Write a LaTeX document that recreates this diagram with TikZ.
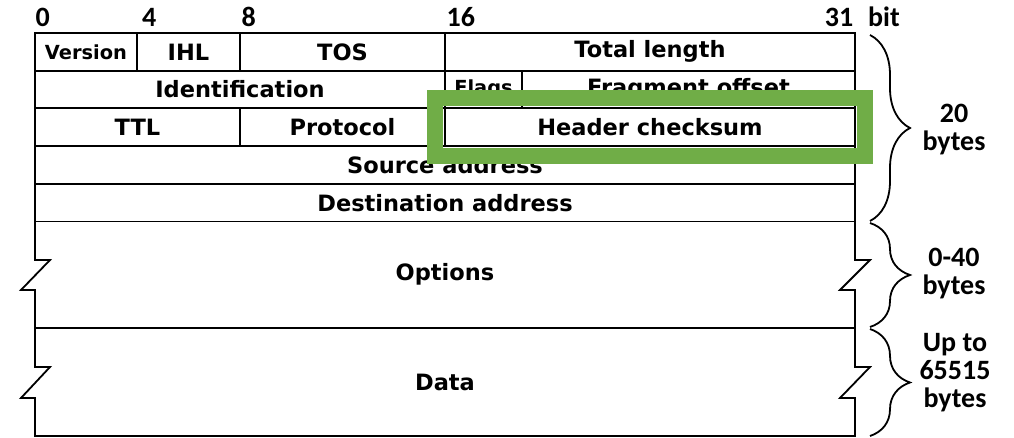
\documentclass[tikz,border=0pt]{standalone}
\usepackage{fontspec}
\usetikzlibrary{decorations.pathreplacing, fit}
\newfontfamily\fieldfont{DejaVu Sans}
\newfontfamily\labelfont{Carlito}
\definecolor{hlgreen}{HTML}{70AD47}

\begin{document}
\begin{tikzpicture}[x=1pt, y=-1pt,
    field/.style={draw, line width=1.8pt, outer sep=0pt, inner sep=0pt,
      minimum height=37.7pt, font=\fieldfont\bfseries\fontsize{22.5}{27}\selectfont},
    small/.style={font=\fieldfont\bfseries\fontsize{19.4}{23}\selectfont},
    frame/.style={line width=1.8pt},
    hl/.style={draw=hlgreen, line width=16pt},
    bitnum/.style={inner sep=0pt, font=\labelfont\bfseries\fontsize{28}{28}\selectfont},
    bytes/.style={align=center, inner sep=0pt, font=\labelfont\bfseries\fontsize{28}{28}\selectfont},
    brace/.style={decorate, decoration={brace, amplitude=40pt}, line width=1.8pt}]
  \useasboundingbox (0,0) rectangle (1014,438);

  % bit positions
  \node[bitnum, anchor=base west] (B0) at (35.5,27) {0};
  \node[bitnum, anchor=base west] (B4) at (142,27) {4};
  \node[bitnum, anchor=base west] (B8) at (241.5,27) {8};
  \node[bitnum, anchor=base west] (B16) at (446.5,27) {16};
  \node[bitnum, anchor=base east] (B31) at (853.5,27) {31};
  \node[bitnum, anchor=base west] (BIT) at (868,27) {bit};

  % header fields
  \node[field, small, minimum width=102pt] (VER) at (86,51.85) {Version};
  \node[field, minimum width=103pt] (IHL) at (188.5,51.85) {IHL};
  \node[field, minimum width=205pt] (TOS) at (342.5,51.85) {TOS};
  \node[field, minimum width=410pt] (LEN) at (650,51.85) {Total length};
  \node[field, minimum width=410pt] (ID) at (240,89.55) {Identification};
  \node[field, small, minimum width=77pt] (FLG) at (483.5,89.55) {Flags};
  \node[field, minimum width=333pt] (FRAG) at (688.5,89.55) {Fragment offset};
  \node[field, minimum width=205pt] (TTL) at (137.5,127.25) {TTL};
  \node[field, minimum width=205pt] (PROT) at (342.5,127.25) {Protocol};
  \node[field, minimum width=410pt] (CHK) at (650,127.25) {Header checksum};
  \node[field, minimum width=820pt] (SRC) at (445,164.95) {Source address};
  \node[field, minimum width=820pt] (DST) at (445,202.65) {Destination address};

  % options and data, with broken sides
  \draw[frame] (DST.south west) -- (35,260) -- ++(15,0) -- ++(-29,30) -- ++(14,0)
    -- (35,367) -- ++(15,0) -- ++(-29,31) -- ++(14,0) -- (35,436) -- (855,436)
    -- (855,398) -- ++(-15,0) -- ++(30,-31) -- ++(-15,0)
    -- (855,290) -- ++(-15,0) -- ++(30,-30) -- ++(-15,0) -- (DST.south east);
  \draw[frame] (35,328) -- (855,328);
  \node[field, draw=none] (OPT) at (445,274.75) {Options};
  \node[field, draw=none] (DATA) at (445,382) {Data};

  % highlight
  \node[hl, fit=(CHK), inner sep=10pt] (HL) {};

  % sizes
  \draw[brace] (870,35) -- (870,221);
  \draw[brace] (870,223) -- (870,327);
  \draw[brace] (870,329) -- (870,436);
  \node[bytes] (N20) at (954,130) {20\\bytes};
  \node[bytes] (N40) at (954,273.5) {0-40\\bytes};
  \node[bytes] (NMAX) at (955,372.5) {Up to\\65515\\bytes};
\end{tikzpicture}
\end{document}
